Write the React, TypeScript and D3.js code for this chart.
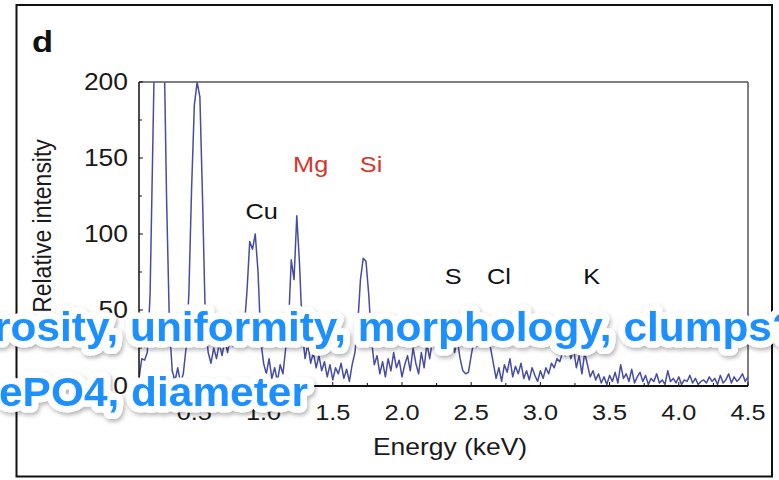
import React from "react";
import * as d3 from "d3";

const W = 779;
const H = 480;

// spectrum: counts per channel, channel 0 at 0.10 keV, 0.02 keV per channel
const E_START = 0.1;
const E_STEP = 0.02;
const counts = [
  5, 18, 17, 22, 60, 160, 260, 300, 280, 230, 120, 40, 10, 3, 12, 2, 8, 25, 60, 130,
  185, 200, 190, 120, 40, 22, 15, 25, 18, 28, 20, 30, 22, 33, 26, 35, 30, 40, 38, 62,
  95, 90, 100, 75, 30, 15, 8, 18, 5, 12, 3, 14, 8, 25, 40, 83, 70, 112, 80, 35,
  18, 28, 15, 22, 12, 20, 10, 16, 6, 14, 4, 12, 8, 15, 5, 11, 3, 14, 22, 40,
  70, 84, 82, 60, 30, 14, 20, 8, 16, 6, 18, 10, 22, 12, 17, 6, 14, 20, 10, 25,
  15, 8, 22, 12, 28, 18, 30, 24, 35, 28, 38, 30, 26, 34, 22, 30, 18, 10, 8, 9,
  20, 30, 26, 35, 28, 36, 30, 25, 15, 5, 12, 3, 14, 9, 18, 6, 13, 8, 15, 5,
  10, 4, 12, 7, 3, 10, 5, 12, 8, 15, 12, 18, 16, 22, 20, 26, 18, 24, 12, 20,
  8, 22, 14, 6, 10, 4, 8, 2, 6, 1, 7, 3, 9, 2, 14, 5, 8, 3, 11, 2,
  6, 9, 3, 7, 1, 5, 3, 8, 2, 4, 1, 10, 3, 5, 2, 6, 1, 4, 3, 7,
  2, 5, 1, 3, 4, 2, 6, 3, 5, 1, 7, 2, 4, 8, 2, 6, 3, 5, 8, 3, 6,
];

const yTicks = [0, 50, 100, 150, 200];
const yMinor = [25, 75, 125, 175];
const xTicks = [0.5, 1.0, 1.5, 2.0, 2.5, 3.0, 3.5, 4.0, 4.5];
const xMinor = [0.25, 0.75, 1.25, 1.75, 2.25, 2.75, 3.25, 3.75, 4.25];

// element annotations (label, energy, intensity level of baseline, colour)
const elements = [
  { name: "Cu", e: 0.987, v: 110, red: false },
  { name: "Mg", e: 1.34, v: 141, red: true },
  { name: "Si", e: 1.777, v: 141, red: true },
  { name: "S", e: 2.37, v: 67, red: false },
  { name: "Cl", e: 2.7, v: 67, red: false },
  { name: "K", e: 3.37, v: 67, red: false },
];

const overlayLines = ["rosity, uniformity, morphology, clumps?", "ePO4, diameter"];

const FONT = "'Liberation Sans', Arial, Helvetica, sans-serif";
const SX = 1.15; // the figure is stretched horizontally

export default function App() {
  const m = { left: 139, top: 82, right: 748, bottom: 386 };
  const x = d3.scaleLinear().domain([0.1, 4.5]).range([m.left, m.right]);
  const y = d3.scaleLinear().domain([0, 200]).range([m.bottom, m.top]);

  const pts = counts.map((c, i) => [E_START + i * E_STEP, c] as [number, number]);
  const line = d3
    .line<[number, number]>()
    .x((d) => x(d[0]))
    .y((d) => y(d[1]));

  const st = (tx: number, ty: number, extra = "", sx = SX) =>
    `translate(${tx},${ty}) scale(${sx},1)${extra}`;

  return (
    <div style={{ position: "absolute", left: 0, top: 0 }}>
      <svg width={W} height={H} style={{ display: "block" }} fontFamily={FONT}>
        <defs>
          <clipPath id="plotClip">
            <rect x={m.left} y={m.top} width={m.right - m.left} height={m.bottom - m.top + 6} />
          </clipPath>
          <filter id="shadow" x="-10%" y="-30%" width="120%" height="160%">
            <feDropShadow dx="1.5" dy="2.5" stdDeviation="2" floodColor="#000" floodOpacity="0.3" />
          </filter>
        </defs>
        <rect x={0} y={0} width={W} height={H} fill="#fff" />
        <rect x={16.5} y={5} width={755.5} height={471.5} fill="none" stroke="#111" strokeWidth={2} />

        <text transform={st(32, 52)} fontSize={30} fontWeight="bold" fill="#111">
          d
        </text>

        {/* frame */}
        <line x1={m.left} x2={m.right} y1={m.top} y2={m.top} stroke="#555" strokeWidth={1.5} />
        <line x1={m.right} x2={m.right} y1={m.top} y2={m.bottom} stroke="#555" strokeWidth={1.5} />

        {/* spectrum */}
        <path
          d={line(pts) ?? ""}
          fill="none"
          stroke="#474ca3"
          strokeWidth={1.5}
          strokeLinejoin="round"
          clipPath="url(#plotClip)"
        />

        {/* axes */}
        <line x1={m.left} x2={m.left} y1={m.top} y2={m.bottom} stroke="#111" strokeWidth={1.5} />
        <line x1={m.left} x2={m.right} y1={m.bottom} y2={m.bottom} stroke="#111" strokeWidth={1.8} />

        {yTicks.map((t) => (
          <g key={"y" + t}>
            <line x1={m.left} x2={m.left + 4} y1={y(t)} y2={y(t)} stroke="#111" />
            <text transform={st(128, y(t) + 8)} textAnchor="end" fontSize={23} fill="#1a1a1a">
              {t}
            </text>
          </g>
        ))}
        {yMinor.map((t) => (
          <line key={"ym" + t} x1={m.left} x2={m.left + 3} y1={y(t)} y2={y(t)} stroke="#111" />
        ))}
        {xTicks.map((t) => (
          <g key={"x" + t}>
            <line x1={x(t)} x2={x(t)} y1={m.bottom} y2={m.bottom - 4} stroke="#111" />
            <text transform={st(x(t), 420)} textAnchor="middle" fontSize={22} fill="#1a1a1a">
              {t.toFixed(1)}
            </text>
          </g>
        ))}
        {xMinor.map((t) => (
          <line key={"xm" + t} x1={x(t)} x2={x(t)} y1={m.bottom} y2={m.bottom - 3} stroke="#111" />
        ))}

        <text transform={st(450, 455)} textAnchor="middle" fontSize={23} fill="#1a1a1a">
          Energy (keV)
        </text>
        <text transform={st(51, 226, " rotate(-90)")} textAnchor="middle" fontSize={23} fill="#1a1a1a">
          Relative intensity
        </text>

        {elements.map((el) => (
          <text
            key={el.name}
            transform={st(x(el.e), y(el.v))}
            textAnchor="middle"
            fontSize={22}
            fill={el.red ? "#d8342f" : "#111"}
          >
            {el.name}
          </text>
        ))}

        {/* overlay annotation */}
        <g filter="url(#shadow)">
          {overlayLines.map((s, i) => (
            <text
              key={i}
              transform={st(i === 0 ? -6 : -1, i === 0 ? 341 : 406, "", 1.035)}
              fontSize={41}
              fontWeight="bold"
              fill="#1e90ff"
              stroke="#fff"
              strokeWidth={13}
              strokeLinejoin="round"
              paintOrder="stroke"
            >
              {s}
            </text>
          ))}
        </g>
      </svg>
    </div>
  );
}
